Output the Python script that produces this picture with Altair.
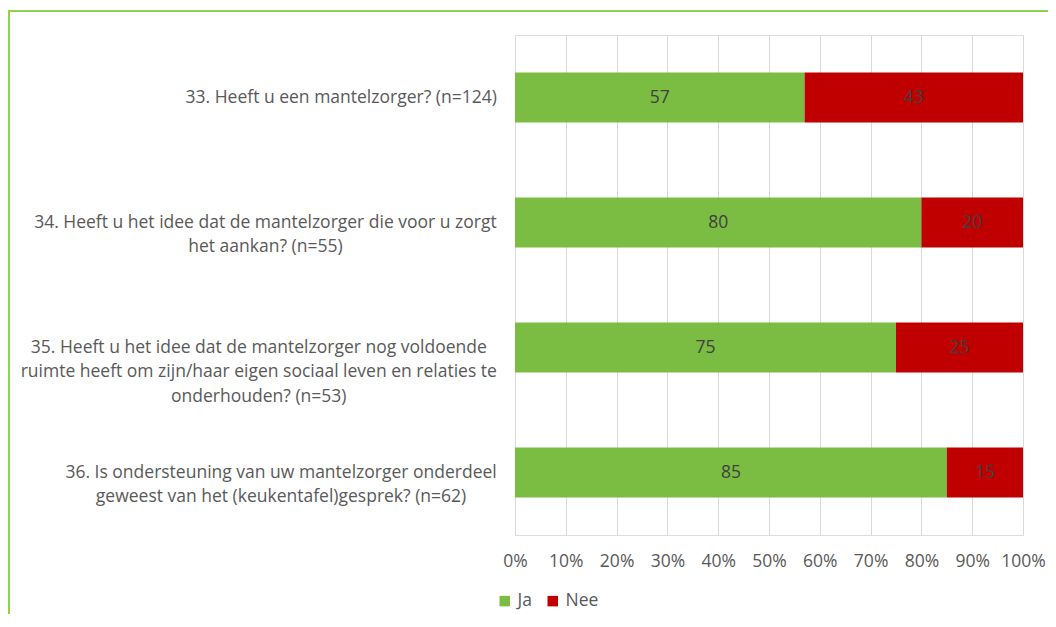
import altair as alt
import pandas as pd

# ---- data ----
questions = [
    "33. Heeft u een mantelzorger? (n=124)",
    "34. Heeft u het idee dat de mantelzorger die voor u zorgt\nhet aankan? (n=55)",
    "35. Heeft u het idee dat de mantelzorger nog voldoende\nruimte heeft om zijn/haar eigen sociaal leven en relaties te\nonderhouden? (n=53)",
    "36. Is ondersteuning van uw mantelzorger onderdeel\ngeweest van het (keukentafel)gesprek? (n=62)",
]
ja = [57, 80, 75, 85]
nee = [43, 20, 25, 15]
answers = ["Ja", "Nee"]
x_ticks = [0, 10, 20, 30, 40, 50, 60, 70, 80, 90, 100]

GREEN = "#7bbd42"
RED = "#c00000"
BORDER = "#92d050"
FONT = "Open Sans"
FS = 17.5

# approximate Open Sans advance widths (units per 2048 em), used only to
# right-align each multi-line label block while centring its lines
ADV = {" ": 532, "a": 1139, "b": 1255, "c": 975, "d": 1255, "e": 1149, "f": 694,
       "g": 1122, "h": 1257, "i": 518, "j": 518, "k": 1075, "l": 518, "m": 1905,
       "n": 1257, "o": 1237, "p": 1255, "r": 836, "s": 977, "t": 723, "u": 1257,
       "v": 1026, "w": 1593, "z": 977, ".": 545, "?": 879, "(": 608, ")": 608,
       "=": 1169, "/": 745, "H": 1511, "I": 571}


def text_width(s):
    return sum(ADV.get(ch, 1171) for ch in s) / 2048 * FS


rows = []
for q, a, b in zip(questions, ja, nee):
    rows.append({"question": q, "answer": "Ja", "value": a, "order": 0})
    rows.append({"question": q, "answer": "Nee", "value": b, "order": 1})
df = pd.DataFrame(rows)

qdf = pd.DataFrame({
    "question": questions,
    "w": [max(text_width(s) for s in q.split("\n")) for q in questions],
})

yscale = alt.Scale(domain=questions, paddingInner=0.6, paddingOuter=0.3)

bars = alt.Chart(df).mark_bar().encode(
    y=alt.Y("question:N", sort=questions, scale=yscale, axis=None),
    x=alt.X(
        "value:Q",
        stack="zero",
        scale=alt.Scale(domain=[0, 100], nice=False),
        axis=alt.Axis(
            values=x_ticks,
            labelExpr="datum.value + '%'",
            title=None,
            domain=False,
            ticks=False,
            tickSize=0,
            labelPadding=17,
            labelFontSize=FS,
            labelFont=FONT,
            labelColor="#595959",
            labelOverlap=False,
            labelFlush=False,
            grid=True,
            gridColor="#d9d9d9",
            gridWidth=1,
        ),
    ),
    color=alt.Color(
        "answer:N",
        scale=alt.Scale(domain=answers, range=[GREEN, RED]),
        legend=alt.Legend(
            title=None,
            orient="none",
            legendX=-19,
            legendY=557,
            direction="horizontal",
            symbolType="square",
            symbolSize=110,
            symbolStrokeWidth=0,
            labelFontSize=FS,
            labelFont=FONT,
            labelColor="#595959",
            labelOffset=4,
            columnPadding=12,
            padding=0,
        ),
    ),
    order=alt.Order("order:Q"),
)

values = alt.Chart(df).transform_stack(
    stack="value",
    groupby=["question"],
    as_=["x0", "x1"],
    sort=[alt.SortField("order", order="ascending")],
).transform_calculate(
    mid="(datum.x0 + datum.x1) / 2"
).mark_text(
    fontSize=FS, font=FONT, color="#404040", baseline="middle", align="center"
).encode(
    y=alt.Y("question:N", sort=questions, scale=yscale, axis=None),
    x=alt.X("mid:Q", scale=alt.Scale(domain=[0, 100], nice=False)),
    text=alt.Text("value:Q"),
)

main = alt.layer(bars, values)

labels = alt.Chart(qdf).transform_calculate(
    lx="-18 - datum.w / 2"
).mark_text(
    fontSize=FS, font=FONT, color="#595959", align="center", baseline="middle",
    lineBreak="\n", lineHeight=24.5,
).encode(
    y=alt.Y("question:N", sort=questions, scale=yscale, axis=None),
    x=alt.X("lx:Q", scale=None, axis=None),
    text="question:N",
)

border = alt.Chart(pd.DataFrame({"k": [0]})).mark_rect(
    fillOpacity=0, stroke=BORDER, strokeWidth=2
).encode(
    x=alt.value(-506), x2=alt.value(1200), y=alt.value(-24), y2=alt.value(800)
)

chart = alt.layer(main, labels, border).resolve_scale(x="independent").properties(
    width=508,
    height=500,
    autosize=alt.AutoSizeParams(type="none"),
    padding={"left": 507, "top": 27, "right": 25, "bottom": 79},
).configure_view(stroke=None).configure(background="white")

chart.save("out.html", embed_options={"renderer": "svg", "actions": False})
